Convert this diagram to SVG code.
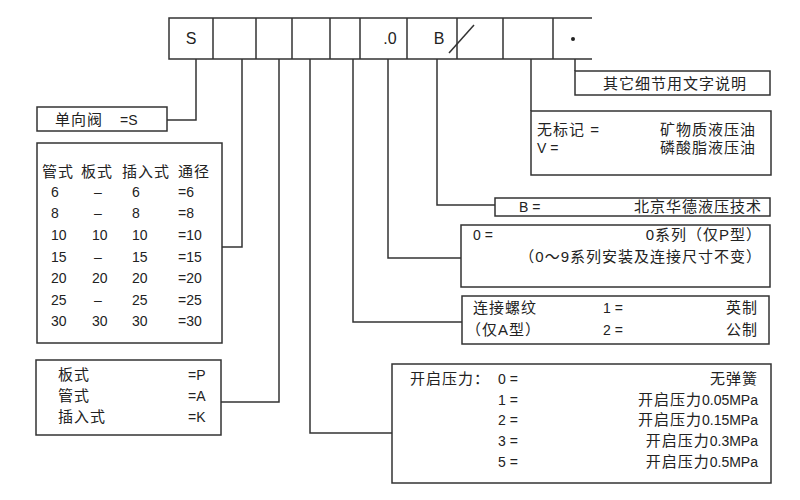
<svg xmlns="http://www.w3.org/2000/svg" width="800" height="500" viewBox="0 0 800 500">
<style>
  .ln{fill:none;stroke:#333;stroke-width:1.5}
  .bx{fill:#fff;stroke:#333;stroke-width:1.5}
  text{font-family:"Liberation Sans","Noto Sans CJK SC",sans-serif;font-size:14px;fill:#222}
  .cn{font-size:15px;letter-spacing:1px}
  .r{text-anchor:end}
  .c{text-anchor:middle}
  .big{font-size:16px}
</style>
<rect width="800" height="500" fill="#fff"/>
<g id="connectors" class="ln">
  <path d="M196 59V120H167"/>
  <path d="M242 59V247H222"/>
  <path d="M279 59V402H221"/>
  <path d="M310 59V433H392"/>
  <path d="M353 59V322H462"/>
  <path d="M388 59V258H461"/>
  <path d="M437 59V205H495"/>
  <path d="M531 59V111"/>
  <path d="M575 59V71"/>
</g>
<g id="code">
  <path class="ln" d="M592 18H169V59H592M213 18V59M256 18V59M292 18V59M330 18V59M360 18V59M407 18V59M457 18V59M503 18V59M553 18V59"/>
  <text x="191" y="44" class="c big">S</text>
  <text x="390" y="44" class="c big">.0</text>
  <text x="439" y="44" class="c big">B</text>
  <path class="ln" d="M449 53L474 25"/>
  <circle cx="573" cy="39" r="2" fill="#222"/>
</g>
<g id="valve">
  <rect class="bx" x="37" y="107" width="130" height="24"/>
  <text x="55" y="125" class="cn">单向阀</text>
  <text x="120" y="125">=S</text>
</g>
<g id="size">
  <rect class="bx" x="37" y="143" width="185" height="200"/>
  <text x="42" y="177" class="cn">管式</text>
  <text x="81" y="177" class="cn">板式</text>
  <text x="122" y="177" class="cn">插入式</text>
  <text x="178" y="177" class="cn">通径</text>
  <g>
    <text x="51" y="197">6</text><text x="98" y="197" class="c">–</text><text x="132" y="197">6</text><text x="178" y="197">=6</text>
    <text x="51" y="218">8</text><text x="98" y="218" class="c">–</text><text x="132" y="218">8</text><text x="178" y="218">=8</text>
    <text x="51" y="240">10</text><text x="92" y="240">10</text><text x="132" y="240">10</text><text x="178" y="240">=10</text>
    <text x="51" y="262">15</text><text x="98" y="262" class="c">–</text><text x="132" y="262">15</text><text x="178" y="262">=15</text>
    <text x="51" y="283">20</text><text x="92" y="283">20</text><text x="132" y="283">20</text><text x="178" y="283">=20</text>
    <text x="51" y="305">25</text><text x="98" y="305" class="c">–</text><text x="132" y="305">25</text><text x="178" y="305">=25</text>
    <text x="51" y="326">30</text><text x="92" y="326">30</text><text x="132" y="326">30</text><text x="178" y="326">=30</text>
  </g>
</g>
<g id="mount">
  <rect class="bx" x="36" y="360" width="185" height="75"/>
  <text x="58" y="380" class="cn">板式</text><text x="188" y="380">=P</text>
  <text x="58" y="401" class="cn">管式</text><text x="188" y="401">=A</text>
  <text x="58" y="422" class="cn">插入式</text><text x="188" y="422">=K</text>
</g>
<g id="details">
  <rect class="bx" x="575" y="71" width="195" height="24"/>
  <text x="675" y="89" class="cn c">其它细节用文字说明</text>
</g>
<g id="oil">
  <rect class="bx" x="531" y="111" width="240" height="64"/>
  <text x="537" y="135" class="cn">无标记 =</text>
  <text x="756" y="135" class="cn r">矿物质液压油</text>
  <text x="537" y="153">V =</text>
  <text x="756" y="153" class="cn r">磷酸脂液压油</text>
</g>
<g id="maker">
  <rect class="bx" x="495" y="198" width="275" height="18"/>
  <text x="519" y="212">B =</text>
  <text x="762" y="212" class="cn r">北京华德液压技术</text>
</g>
<g id="series">
  <rect class="bx" x="461" y="225" width="309" height="62"/>
  <text x="473" y="240">0 =</text>
  <text x="762" y="240" class="cn r">0系列（仅P型）</text>
  <text x="762" y="262" class="cn r">（0～9系列安装及连接尺寸不变）</text>
</g>
<g id="thread">
  <rect class="bx" x="462" y="296" width="307" height="48"/>
  <text x="473" y="313" class="cn">连接螺纹</text>
  <text x="603" y="313">1 =</text>
  <text x="758" y="313" class="cn r">英制</text>
  <text x="466" y="335" class="cn">（仅A型）</text>
  <text x="603" y="335">2 =</text>
  <text x="758" y="335" class="cn r">公制</text>
</g>
<g id="pressure">
  <rect class="bx" x="392" y="364" width="379" height="119"/>
  <text x="410" y="384" class="cn">开启压力：</text>
  <text x="498" y="384">0 =</text>
  <text x="758" y="384" class="cn r">无弹簧</text>
  <text x="498" y="405">1 =</text>
  <text x="758" y="405" class="r"><tspan class="cn">开启压力</tspan>0.05MPa</text>
  <text x="498" y="425">2 =</text>
  <text x="758" y="425" class="r"><tspan class="cn">开启压力</tspan>0.15MPa</text>
  <text x="498" y="446">3 =</text>
  <text x="758" y="446" class="r"><tspan class="cn">开启压力</tspan>0.3MPa</text>
  <text x="498" y="467">5 =</text>
  <text x="758" y="467" class="r"><tspan class="cn">开启压力</tspan>0.5MPa</text>
</g>
</svg>
